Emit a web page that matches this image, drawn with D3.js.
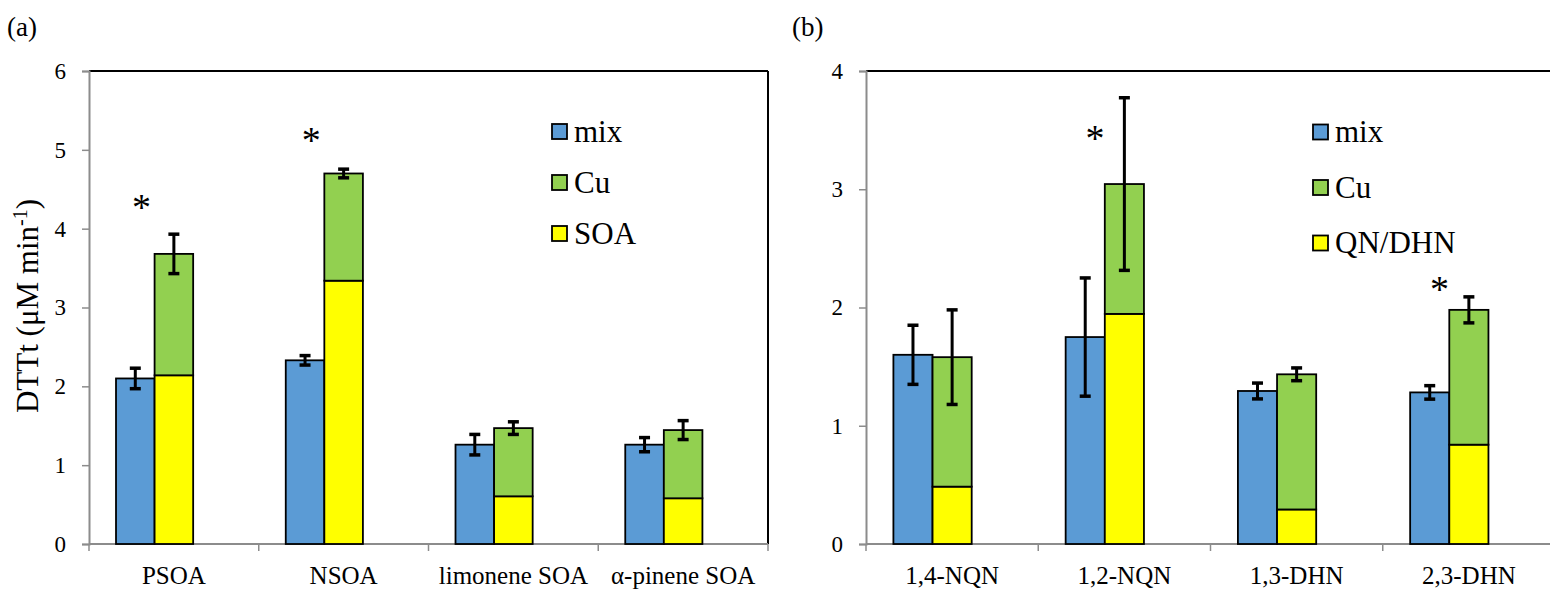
<!DOCTYPE html>
<html>
<head>
<meta charset="utf-8">
<script src="https://cdn.jsdelivr.net/npm/d3@7"></script>
<style>
  html, body { margin: 0; padding: 0; background: #fff; }
  svg { display: block; }
  svg text { font-family: "Liberation Serif", "Times New Roman", serif !important; }
</style>
</head>
<body>
<svg id="chart" width="1550" height="590"></svg>
<script>
// ---------- Panel (a) data ----------
const categoriesA = ["PSOA", "NSOA", "limonene SOA", "α-pinene SOA"];
const mixA = [2.10, 2.33, 1.26, 1.26];
const mixErrA = [0.13, 0.06, 0.13, 0.09];
const soaA = [2.14, 3.34, 0.605, 0.58];
const cuA = [1.54, 1.36, 0.865, 0.865];
const stackErrA = [0.25, 0.055, 0.08, 0.12];
const starA = [4.32, 5.18, null, null];
const legendA = ["mix", "Cu", "SOA"];
const ticksA = [0, 1, 2, 3, 4, 5, 6];

// ---------- Panel (b) data ----------
const categoriesB = ["1,4-NQN", "1,2-NQN", "1,3-DHN", "2,3-DHN"];
const mixB = [1.60, 1.75, 1.294, 1.282];
const mixErrB = [0.25, 0.50, 0.067, 0.057];
const qnB = [0.485, 1.946, 0.292, 0.84];
const cuB = [1.095, 1.098, 1.143, 1.14];
const stackErrB = [0.40, 0.73, 0.054, 0.11];
const starB = [null, 3.47, null, 2.19];
const legendB = ["mix", "Cu", "QN/DHN"];
const ticksB = [0, 1, 2, 3, 4];

const colors = { mix: "#5B9BD5", cu: "#92D050", base: "#FFFF00" };
const axisGrey = "#8c8c8c";
const FONT = "'Liberation Serif', 'Times New Roman', serif";

const svg = d3.select("#chart");

function panel(cfg) {
  const g = svg.append("g");
  const { left, right, top, bottom } = cfg;
  const y = d3.scaleLinear().domain([0, cfg.ymax]).range([bottom, top]);
  const x = d3.scaleBand().domain(cfg.categories).range([left, right]).padding(0);
  const sub = d3.scaleBand().domain(["mix", "stack", "empty"])
    .range([0, x.bandwidth()]).paddingInner(0).paddingOuter(0.7);

  g.append("line").attr("x1", left).attr("x2", cfg.frameRight)
    .attr("y1", top).attr("y2", top).attr("stroke", "#000").attr("stroke-width", 2);
  if (cfg.rightBorder) {
    g.append("line").attr("x1", right).attr("x2", right)
      .attr("y1", top).attr("y2", bottom).attr("stroke", "#000").attr("stroke-width", 2);
  }

  const ya = g.append("g").attr("transform", `translate(${left},0)`)
    .call(d3.axisLeft(y).tickValues(cfg.ticks).tickFormat(d3.format("d")).tickSize(7).tickPadding(cfg.tickPad));
  ya.attr("font-family", FONT);
  ya.select(".domain").attr("stroke", axisGrey).attr("stroke-width", 2);
  ya.selectAll(".tick line").attr("stroke", axisGrey).attr("stroke-width", 1.5);
  ya.selectAll(".tick text").attr("font-size", 23).attr("fill", "#000").attr("font-family", FONT);

  const xa = g.append("g").attr("transform", `translate(0,${bottom})`)
    .call(d3.axisBottom(x).tickSize(0).tickPadding(22));
  xa.attr("font-family", FONT);
  xa.select(".domain").remove();
  xa.selectAll(".tick text").attr("font-size", 25).attr("fill", "#000").attr("font-family", FONT);
  g.append("line").attr("x1", left).attr("x2", cfg.frameRight)
    .attr("y1", bottom).attr("y2", bottom).attr("stroke", axisGrey).attr("stroke-width", 2);
  const edges = cfg.categories.map(c => x(c)).concat([x(cfg.categories[cfg.categories.length - 1]) + x.bandwidth()]);
  g.selectAll(".xedge").data(edges).enter().append("line")
    .attr("x1", d => d).attr("x2", d => d).attr("y1", bottom).attr("y2", bottom + 7)
    .attr("stroke", axisGrey).attr("stroke-width", 1.5);

  const rows = cfg.categories.map((c, i) => ({
    c, mix: cfg.mix[i], mixErr: cfg.mixErr[i], base: cfg.base[i], cu: cfg.cu[i],
    err: cfg.stackErr[i], star: cfg.star[i]
  }));

  g.selectAll(".mix").data(rows).enter().append("rect")
    .attr("x", d => x(d.c) + sub("mix")).attr("width", sub.bandwidth())
    .attr("y", d => y(d.mix)).attr("height", d => y(0) - y(d.mix))
    .attr("fill", colors.mix).attr("stroke", "#000").attr("stroke-width", 1.8);
  g.selectAll(".base").data(rows).enter().append("rect")
    .attr("x", d => x(d.c) + sub("stack")).attr("width", sub.bandwidth())
    .attr("y", d => y(d.base)).attr("height", d => y(0) - y(d.base))
    .attr("fill", colors.base).attr("stroke", "#000").attr("stroke-width", 1.8);
  g.selectAll(".cu").data(rows).enter().append("rect")
    .attr("x", d => x(d.c) + sub("stack")).attr("width", sub.bandwidth())
    .attr("y", d => y(d.base + d.cu)).attr("height", d => y(d.base) - y(d.base + d.cu))
    .attr("fill", colors.cu).attr("stroke", "#000").attr("stroke-width", 1.8);

  const errs = [];
  rows.forEach(d => {
    errs.push({ cx: x(d.c) + sub("mix") + sub.bandwidth() / 2, v: d.mix, e: d.mixErr });
    errs.push({ cx: x(d.c) + sub("stack") + sub.bandwidth() / 2, v: d.base + d.cu, e: d.err });
  });
  const eg = g.selectAll(".err").data(errs).enter().append("g");
  eg.append("line").attr("x1", d => d.cx).attr("x2", d => d.cx)
    .attr("y1", d => y(d.v + d.e)).attr("y2", d => y(d.v - d.e))
    .attr("stroke", "#000").attr("stroke-width", 3);
  eg.append("line").attr("x1", d => d.cx - 5.5).attr("x2", d => d.cx + 5.5)
    .attr("y1", d => y(d.v + d.e)).attr("y2", d => y(d.v + d.e))
    .attr("stroke", "#000").attr("stroke-width", 3.5);
  eg.append("line").attr("x1", d => d.cx - 5.5).attr("x2", d => d.cx + 5.5)
    .attr("y1", d => y(d.v - d.e)).attr("y2", d => y(d.v - d.e))
    .attr("stroke", "#000").attr("stroke-width", 3.5);

  g.selectAll(".star").data(rows.filter(d => d.star != null)).enter().append("text")
    .attr("x", d => x(d.c) + x.bandwidth() * cfg.starPos)
    .attr("y", d => y(d.star) + 17)
    .attr("text-anchor", "middle").attr("font-size", 38).attr("font-family", FONT).text("*");

  const keys = [colors.mix, colors.cu, colors.base];
  const lg = g.selectAll(".leg").data(cfg.legend).enter().append("g")
    .attr("transform", (d, i) => `translate(${cfg.legX},${cfg.legY + i * cfg.legStep})`);
  lg.append("rect").attr("x", 1).attr("y", -7.5).attr("width", 15).attr("height", 15)
    .attr("fill", (d, i) => keys[i]).attr("stroke", "#000").attr("stroke-width", 1.8);
  lg.append("text").attr("x", 23).attr("y", 10).attr("font-size", 31)
    .attr("font-family", FONT).text(d => d);

  g.append("text").attr("x", cfg.labelX).attr("y", 36).attr("font-size", 27)
    .attr("font-family", FONT).text(cfg.label);
  return { x, y };
}

panel({
  left: 89, right: 768, top: 71, bottom: 544, frameRight: 768, rightBorder: true,
  ymax: 6, ticks: ticksA, categories: categoriesA, tickPad: 16,
  mix: mixA, mixErr: mixErrA, base: soaA, cu: cuA, stackErr: stackErrA, star: starA,
  starPos: 0.31, legend: legendA, legX: 551, legY: 131.5, legStep: 51,
  label: "(a)", labelX: 7
});

panel({
  left: 866, right: 1555, top: 71, bottom: 544, frameRight: 1550, rightBorder: false,
  ymax: 4, ticks: ticksB, categories: categoriesB, tickPad: 16,
  mix: mixB, mixErr: mixErrB, base: qnB, cu: cuB, stackErr: stackErrB, star: starB,
  starPos: 0.33, legend: legendB, legX: 1312, legY: 132, legStep: 55.5,
  label: "(b)", labelX: 792
});

const title = svg.append("text")
  .attr("transform", "translate(38,306) rotate(-90)")
  .attr("text-anchor", "middle").attr("font-size", 31).attr("font-family", FONT);
title.append("tspan").text("DTTt (μM min");
title.append("tspan").attr("dy", -11).attr("font-size", 20).text("-1");
title.append("tspan").attr("dy", 11).text(")");
</script>
</body>
</html>
